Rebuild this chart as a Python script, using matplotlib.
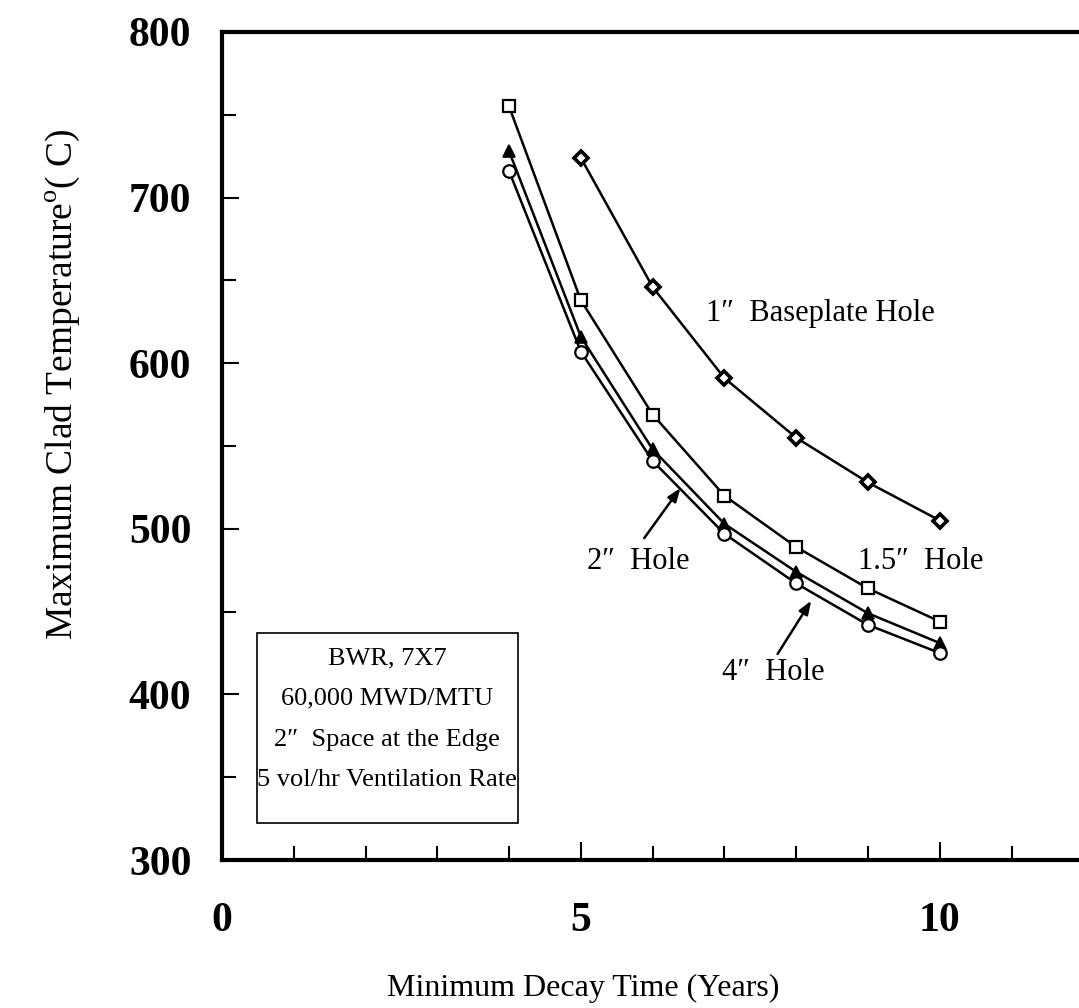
import numpy as np
import matplotlib.pyplot as plt
from matplotlib.patches import Rectangle

plt.rcParams['font.family'] = ['Liberation Serif', 'DejaVu Serif']
plt.rcParams['mathtext.fontset'] = 'custom'
plt.rcParams['mathtext.rm'] = 'Liberation Serif'

# decay time (years)
years = [4, 5, 6, 7, 8, 9, 10]
years_1in = [5, 6, 7, 8, 9, 10]

# max clad temperature (C)
hole_1in = [724, 646, 591, 555, 528, 505]
hole_15in = [755, 638, 569, 520, 489, 464, 444]
hole_2in = [728, 616, 548, 503, 474, 449, 431]
hole_4in = [716, 607, 541, 497, 467, 442, 425]

fig = plt.figure(figsize=(10.79, 10.08), dpi=100)
ax = fig.add_axes([0.2057, 0.1468, 0.7943, 0.8215])

mk = dict(color='black', lw=1.8, mfc='white', mec='black', mew=1.6)
ax.plot(years_1in, hole_1in, marker='D', ms=7, mew=2.6, color='black', lw=1.8,
        mfc='white', mec='black')
ax.plot(years, hole_15in, marker='s', ms=9, **mk)
ax.plot(years, hole_2in, marker='^', ms=9, color='black', lw=1.8, mfc='black',
        mec='black', mew=1.2)
ax.plot(years, hole_4in, marker='o', ms=9, **mk)

ax.set_xlim(0, 11.94)
ax.set_ylim(300, 800)
ax.set_xticks([0, 5, 10])
ax.set_xticks(np.arange(0, 12, 1), minor=True)
ax.set_yticks([300, 400, 500, 600, 700, 800])
ax.set_yticks(np.arange(300, 800, 50), minor=True)

ax.tick_params(axis='both', which='both', direction='in', top=False, right=False)
ax.tick_params(axis='x', which='major', length=13, width=1.5, pad=30)
ax.tick_params(axis='x', which='minor', length=10, width=1.5)
ax.tick_params(axis='y', which='major', length=12, width=1.5, pad=22)
ax.tick_params(axis='y', which='minor', length=10, width=1.5)
for lab in ax.get_xticklabels() + ax.get_yticklabels():
    lab.set_fontsize(30)
    lab.set_fontweight('bold')

for s in ['left', 'bottom', 'top']:
    ax.spines[s].set_linewidth(3)
ax.spines['right'].set_visible(False)

ax.set_xlabel('Minimum Decay Time (Years)', fontsize=23)
ax.xaxis.set_label_coords(0.422, -0.137)
ax.set_ylabel('Maximum Clad Temperature$^{\\mathrm{o}}$( C)', fontsize=27)
ax.yaxis.set_label_coords(-0.163, 0.575)

fs = 22
ax.text(6.75, 630, '1″  Baseplate Hole', fontsize=fs, va='center', ha='left')
ax.text(8.86, 480, '1.5″  Hole', fontsize=fs, va='center', ha='left')
ax.text(5.08, 480, '2″  Hole', fontsize=fs, va='center', ha='left')
ax.text(6.96, 413, '4″  Hole', fontsize=fs, va='center', ha='left')

arrow = dict(arrowstyle='-|>,head_length=0.8,head_width=0.3', color='black', lw=1.8)
ax.annotate('', xy=(6.41, 526), xytext=(5.86, 493), arrowprops=arrow)
ax.annotate('', xy=(8.23, 458), xytext=(7.72, 423), arrowprops=arrow)

# info box
ax.add_patch(Rectangle((0.487, 322.3), 3.636, 114.7, fc='white', ec='black', lw=1.2))
ax.text(2.305, 385, 'BWR, 7X7\n60,000 MWD/MTU\n2″  Space at the Edge\n5 vol/hr Ventilation Rate',
        fontsize=19, ha='center', va='center', multialignment='center', linespacing=2.1)

fig.savefig('out.png', dpi=100)
